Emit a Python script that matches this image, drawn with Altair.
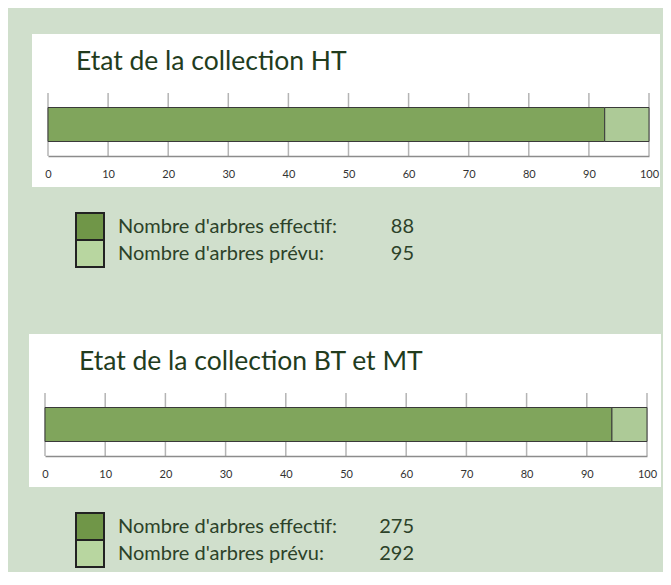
import altair as alt
import pandas as pd

# ---- data ----
titles = ["Etat de la collection HT", "Etat de la collection BT et MT"]
collections = ["HT", "BT et MT"]
effectif = [88, 275]
prevu = [95, 292]
legend_labels = ["Nombre d'arbres effectif:", "Nombre d'arbres prévu:"]
kinds = ["effectif", "prévu"]
tick_values = [0, 10, 20, 30, 40, 50, 60, 70, 80, 90, 100]

# ---- styles ----
BG = "#d0dfcc"
BAR_COLORS = ["#80a55c", "#adca97"]
SWATCH_COLORS = ["#709648", "#b8d6a0"]
TITLE_COLOR = "#223c1d"
TEXT_COLOR = "#2c4229"
TITLE_FONT = "Lato, Liberation Sans, sans-serif"
TEXT_FONT = "Lato, Liberation Sans, sans-serif"


def section(i, x_range, panel_x, title_dx):
    pct = effectif[i] / prevu[i] * 100
    bars = pd.DataFrame({
        "collection": [collections[i]] * 2,
        "start": [0, pct],
        "end": [pct, 100],
        "kind": kinds,
    })
    legend = pd.DataFrame({
        "kind": kinds,
        "label": legend_labels,
        "value": [effectif[i], prevu[i]],
    })
    ticks_df = pd.DataFrame({"t": tick_values})
    head = pd.DataFrame({"title": [titles[i]]})

    xscale = alt.Scale(domain=[0, 100], range=x_range, nice=False, zero=False)
    xaxis = alt.Axis(values=tick_values, grid=False, ticks=False,
                     domainColor="#8c8c8c", domainWidth=1.5,
                     labelFont=TEXT_FONT, labelFontSize=11, labelColor="#333333",
                     labelPadding=12, title=None, zindex=1, format="d",
                     labelFlush=False, labelOverlap=False)
    ly = alt.Y("kind:N", scale=alt.Scale(domain=kinds, range=[120, 174],
                                         paddingInner=0, paddingOuter=0), axis=None)

    panel = alt.Chart(head).mark_rect(fill="white").encode(
        x=alt.value(panel_x[0]), x2=alt.value(panel_x[1]),
        y=alt.value(-59), y2=alt.value(94))
    grid = alt.Chart(ticks_df).mark_rule(color="#b4b4b4", strokeWidth=1.5).encode(
        x=alt.X("t:Q", scale=xscale, axis=xaxis))
    bar = alt.Chart(bars).mark_bar(size=34, stroke="#3a3a3a", strokeWidth=1).encode(
        x=alt.X("start:Q", scale=xscale, axis=xaxis), x2="end:Q",
        y=alt.Y("collection:N", axis=None),
        color=alt.Color("kind:N", scale=alt.Scale(domain=kinds, range=BAR_COLORS), legend=None))
    title = alt.Chart(head).mark_text(align="left", baseline="alphabetic", font=TITLE_FONT,
                                      fontSize=26.5, color=TITLE_COLOR).encode(
        x=alt.value(title_dx), y=alt.value(-23), text="title:N")
    swatch = alt.Chart(legend).mark_rect(stroke="#222222", strokeWidth=2).encode(
        x=alt.value(31), x2=alt.value(59), y=ly,
        color=alt.Color("kind:N", scale=alt.Scale(domain=kinds, range=SWATCH_COLORS), legend=None))
    labels = alt.Chart(legend).mark_text(align="left", baseline="middle", font=TEXT_FONT,
                                         fontSize=20, color=TEXT_COLOR).encode(
        x=alt.value(73), y=ly, text="label:N")
    values = alt.Chart(legend).mark_text(align="right", baseline="middle", font=TEXT_FONT,
                                         fontSize=20, color=TEXT_COLOR).encode(
        x=alt.value(369), y=ly, text="value:Q")
    return alt.layer(panel, grid, bar, title, swatch, labels, values).properties(
        width=604, height=63).resolve_scale(y="independent", color="independent")


s1 = section(0, [3, 604], [-13, 615], 31)
s2 = section(1, [0, 602], [-16, 616], 34)

chart = alt.vconcat(s1, s2, spacing=66).properties(
    background=BG,
    padding={"left": 21, "top": 26, "right": 2, "bottom": 4},
).configure_view(stroke=None)

chart.save("out.html", embed_options={"renderer": "svg", "actions": False})
